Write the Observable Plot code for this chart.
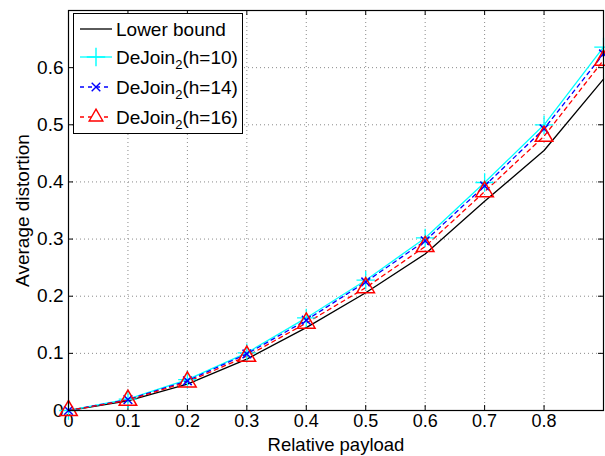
<!DOCTYPE html>
<html>
<head>
<meta charset="utf-8">
<script src="https://cdn.jsdelivr.net/npm/d3@7"></script>
<script src="https://cdn.jsdelivr.net/npm/@observablehq/plot@0.6"></script>
<style>
  html, body { margin: 0; padding: 0; background: #fff; }
  #wrap { position: relative; width: 605px; height: 456px; font-family: "Liberation Sans", Arial, sans-serif; }
  #legend { position: absolute; left: 73px; top: 13px; width: 168px; height: 119px; border: 1px solid #000; background: #fff; box-sizing: content-box; }
  .row { position: absolute; left: 0; height: 30px; display: flex; align-items: center; }
  .row svg { display: block; margin-left: 5px; }
  .row span { font-size: 19px; margin-left: 3px; color: #000; white-space: nowrap; line-height: 1; }
  .row sub { font-size: 13px; vertical-align: -5px; line-height: 0; }
</style>
</head>
<body>
<div id="wrap"></div>
<script>
const payload = [0, 0.1, 0.2, 0.3, 0.4, 0.5, 0.6, 0.7, 0.8, 0.9];
const lowerBound = [0, 0.017, 0.046, 0.090, 0.145, 0.206, 0.274, 0.366, 0.455, 0.580];
const deJoinH10  = [0, 0.020, 0.054, 0.101, 0.162, 0.228, 0.302, 0.399, 0.500, 0.636];
const deJoinH14  = [0, 0.019, 0.052, 0.099, 0.158, 0.225, 0.297, 0.393, 0.493, 0.624];
const deJoinH16  = [0, 0.018, 0.050, 0.095, 0.153, 0.215, 0.287, 0.383, 0.480, 0.613];
const xTicks = [0, 0.1, 0.2, 0.3, 0.4, 0.5, 0.6, 0.7, 0.8];
const yTicks = [0, 0.1, 0.2, 0.3, 0.4, 0.5, 0.6];
const seriesNames = ["Lower bound", "DeJoin2(h=10)", "DeJoin2(h=14)", "DeJoin2(h=16)"];

const rows = (vals, name) => payload.map((p, i) => ({x: p, y: vals[i], name}));
const dLower = rows(lowerBound, seriesNames[0]);
const d10 = rows(deJoinH10, seriesNames[1]);
const d14 = rows(deJoinH14, seriesNames[2]);
const d16 = rows(deJoinH16, seriesNames[3]);

const W = 605, H = 456, mL = 68, mR = 2, mT = 10, mB = 46;
const innerW = W - mL - mR, innerH = H - mT - mB;
const grid = {stroke: "#8a8a8a", strokeOpacity: 1, strokeDasharray: "1,3", strokeWidth: 1};
const fmt = d => d === 0 ? "0" : d3.format(".1f")(d);

const chart = Plot.plot({
  width: W, height: H,
  marginLeft: mL, marginRight: mR, marginTop: mT, marginBottom: mB,
  style: {fontFamily: "'Liberation Sans', Arial, sans-serif", fontSize: "18px", background: "#fff", color: "#000"},
  x: {domain: [0, 0.9], ticks: xTicks, label: null},
  y: {domain: [0, 0.7], ticks: yTicks, label: null},
  marks: [
    Plot.gridX(xTicks, {...grid}),
    Plot.gridY(yTicks, {...grid}),
    Plot.axisX(xTicks, {tickSize: 0, tickPadding: 4, fontSize: 18, label: null, tickFormat: fmt}),
    Plot.axisY(yTicks, {tickSize: 0, tickPadding: 5, fontSize: 19, label: null, tickFormat: fmt}),
    Plot.tickX(xTicks, {x: d => d, insetTop: innerH - 5, stroke: "#000"}),
    Plot.tickX(xTicks, {x: d => d, insetBottom: innerH - 5, stroke: "#000"}),
    Plot.tickY(yTicks, {y: d => d, insetRight: innerW - 5, stroke: "#000"}),
    Plot.tickY(yTicks, {y: d => d, insetLeft: innerW - 5, stroke: "#000"}),
    Plot.line(dLower, {x: "x", y: "y", stroke: "#000", strokeWidth: 1.3}),
    Plot.line(d10, {x: "x", y: "y", stroke: "#00ffff", strokeWidth: 1.3}),
    Plot.line(d14, {x: "x", y: "y", stroke: "#0000ff", strokeWidth: 1.3, strokeDasharray: "4,4"}),
    Plot.line(d16, {x: "x", y: "y", stroke: "#ff0000", strokeWidth: 1.3, strokeDasharray: "4,4"}),
    Plot.dot(d10, {x: "x", y: "y", symbol: "plus", r: 6, stroke: "#00ffff", strokeWidth: 1.3, fill: "none"}),
    Plot.dot(d14, {x: "x", y: "y", symbol: "times", r: 4, stroke: "#0000ff", strokeWidth: 1.5, fill: "none"}),
    Plot.dot(d16, {x: "x", y: "y", symbol: "triangle", r: 6.5, stroke: "#ff0000", strokeWidth: 1.5, fill: "none"}),
    Plot.frame({stroke: "#000", strokeWidth: 1.2}),
    Plot.text(["Relative payload"], {frameAnchor: "bottom", dy: 35, text: d => d, fontSize: 18.5, lineAnchor: "middle"}),
    Plot.text(["Average distortion"], {frameAnchor: "left", dx: -46, rotate: -90, text: d => d, fontSize: 19, textAnchor: "middle", lineAnchor: "middle"})
  ]
});
const wrap = document.getElementById("wrap");
wrap.appendChild(chart);

// Legend (inside the axes, like MATLAB)
const legend = document.createElement("div");
legend.id = "legend";
const styles = [
  {stroke: "#000", dash: null, sym: null},
  {stroke: "#00ffff", dash: null, sym: "plus"},
  {stroke: "#0000ff", dash: "4,4", sym: "times"},
  {stroke: "#ff0000", dash: "4,4", sym: "triangle"}
];
const rowTops = [0, 28, 58, 88];
seriesNames.forEach((name, i) => {
  const st = styles[i];
  const row = document.createElement("div");
  row.className = "row";
  row.style.top = rowTops[i] + "px";
  const svg = d3.create("svg").attr("width", 34).attr("height", 30);
  svg.append("line").attr("x1", 1).attr("x2", 33).attr("y1", 15).attr("y2", 15)
    .attr("stroke", st.stroke).attr("stroke-width", 1.3).attr("stroke-dasharray", st.dash);
  if (st.sym) {
    const symMap = {plus: [d3.symbolPlus, 113], times: [d3.symbolTimes, 50], triangle: [d3.symbolTriangle2, 133]};
    const [s, size] = symMap[st.sym];
    svg.append("path").attr("transform", "translate(17,15)").attr("d", d3.symbol(s, size)())
      .attr("fill", "#fff").attr("stroke", st.stroke).attr("stroke-width", 1.4);
  }
  row.appendChild(svg.node());
  const label = document.createElement("span");
  const m = name.match(/^(DeJoin)(2)(.*)$/);
  if (m) label.innerHTML = m[1] + "<sub>" + m[2] + "</sub>" + m[3];
  else label.textContent = name;
  row.appendChild(label);
  legend.appendChild(row);
});
wrap.appendChild(legend);
</script>
</body>
</html>
